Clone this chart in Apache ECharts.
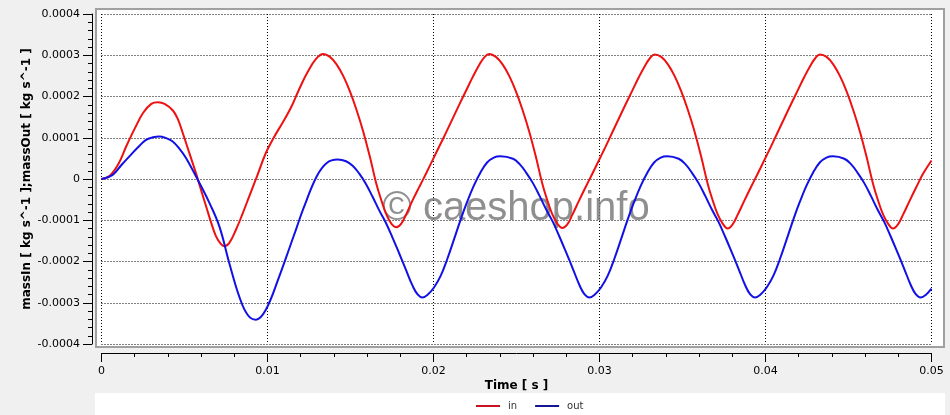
<!DOCTYPE html>
<html><head><meta charset="utf-8">
<script src="https://cdn.jsdelivr.net/npm/echarts@6/dist/echarts.min.js"></script>
<style>html,body{margin:0;padding:0;background:#f0f0f0}#c{width:950px;height:415px}</style>
</head><body><div id="c"></div>
<script>
// ---- data ----
const inTime = [0, 0.0005, 0.0010, 0.0015, 0.0020, 0.0025, 0.0030, 0.0034, 0.0038, 0.0043, 0.0046, 0.0049, 0.0053, 0.0057, 0.0060, 0.0063, 0.0066, 0.0069, 0.0072, 0.0074, 0.0077, 0.0081, 0.0085, 0.0089, 0.0094, 0.0099, 0.0104, 0.0109, 0.0114, 0.0119, 0.0124, 0.0129, 0.01336,
  0.01376, 0.01416, 0.01456, 0.01496, 0.01536, 0.01576, 0.01616, 0.01656, 0.01686, 0.01716, 0.01746, 0.01776, 0.01806, 0.01836, 0.01876, 0.01916, 0.01956, 0.01996, 0.02036, 0.02076, 0.02116, 0.02156, 0.02196, 0.02236, 0.02276, 0.02306, 0.02336,
  0.02376, 0.02416, 0.02456, 0.02496, 0.02536, 0.02576, 0.02616, 0.02656, 0.02686, 0.02716, 0.02746, 0.02776, 0.02806, 0.02836, 0.02876, 0.02916, 0.02956, 0.02996, 0.03036, 0.03076, 0.03116, 0.03156, 0.03196, 0.03236, 0.03276, 0.03306, 0.03332,
  0.03372, 0.03412, 0.03452, 0.03492, 0.03532, 0.03572, 0.03612, 0.03652, 0.03682, 0.03712, 0.03742, 0.03772, 0.03802, 0.03832, 0.03872, 0.03912, 0.03952, 0.03992, 0.04032, 0.04072, 0.04112, 0.04152, 0.04192, 0.04232, 0.04272, 0.04302, 0.04328,
  0.04368, 0.04408, 0.04448, 0.04488, 0.04528, 0.04568, 0.04608, 0.04648, 0.04678, 0.04708, 0.04738, 0.04768, 0.04798, 0.04828, 0.04868, 0.04908, 0.04948, 0.0500];
const inValue = [0, 0.08e-4, 0.35e-4, 0.80e-4, 1.22e-4, 1.60e-4, 1.82e-4, 1.86e-4, 1.82e-4, 1.66e-4, 1.45e-4, 1.11e-4, 0.62e-4, 0.13e-4, -0.27e-4, -0.66e-4, -1.05e-4, -1.39e-4, -1.58e-4, -1.63e-4, -1.55e-4, -1.23e-4, -0.84e-4, -0.42e-4, 0.10e-4, 0.63e-4, 1.02e-4, 1.36e-4, 1.72e-4, 2.17e-4, 2.58e-4, 2.90e-4, 3.03e-4,
  2.96e-4, 2.78e-4, 2.50e-4, 2.13e-4, 1.68e-4, 1.16e-4, 0.55e-4, -0.12e-4, -0.52e-4, -0.86e-4, -1.08e-4, -1.17e-4, -1.08e-4, -0.85e-4, -0.50e-4, -0.18e-4, 0.14e-4, 0.47e-4, 0.80e-4, 1.13e-4, 1.47e-4, 1.81e-4, 2.14e-4, 2.47e-4, 2.77e-4, 2.95e-4, 3.03e-4,
  2.96e-4, 2.78e-4, 2.50e-4, 2.13e-4, 1.68e-4, 1.16e-4, 0.55e-4, -0.12e-4, -0.52e-4, -0.86e-4, -1.08e-4, -1.19e-4, -1.10e-4, -0.87e-4, -0.53e-4, -0.20e-4, 0.12e-4, 0.45e-4, 0.78e-4, 1.12e-4, 1.46e-4, 1.80e-4, 2.13e-4, 2.46e-4, 2.76e-4, 2.94e-4, 3.02e-4,
  2.96e-4, 2.78e-4, 2.50e-4, 2.13e-4, 1.68e-4, 1.16e-4, 0.55e-4, -0.12e-4, -0.52e-4, -0.86e-4, -1.08e-4, -1.20e-4, -1.10e-4, -0.87e-4, -0.53e-4, -0.20e-4, 0.12e-4, 0.45e-4, 0.78e-4, 1.12e-4, 1.46e-4, 1.80e-4, 2.13e-4, 2.46e-4, 2.76e-4, 2.94e-4, 3.02e-4,
  2.96e-4, 2.78e-4, 2.50e-4, 2.13e-4, 1.68e-4, 1.16e-4, 0.55e-4, -0.12e-4, -0.52e-4, -0.86e-4, -1.08e-4, -1.20e-4, -1.10e-4, -0.87e-4, -0.53e-4, -0.20e-4, 0.12e-4, 0.45e-4];

const outTime = [0, 0.00067, 0.0012, 0.00168, 0.0022, 0.00268, 0.0031, 0.00348, 0.0039, 0.00429, 0.0047, 0.00509, 0.0058, 0.0065, 0.0071, 0.0077, 0.0083, 0.0088, 0.0093, 0.0099, 0.01071, 0.01136, 0.01172, 0.01216, 0.01296, 0.01357, 0.01423,
  0.01473, 0.01513, 0.01553, 0.01593, 0.01633, 0.01673, 0.01713, 0.01753, 0.01793, 0.01833, 0.01873, 0.01903, 0.01933,
  0.01963, 0.02003, 0.02043, 0.02083, 0.02123, 0.02163, 0.02203, 0.02243, 0.02283, 0.02323, 0.02363, 0.02403,
  0.02479, 0.02519, 0.02559, 0.02599, 0.02639, 0.02679, 0.02719, 0.02759, 0.02799, 0.02839, 0.02879, 0.02909, 0.02939,
  0.02969, 0.03009, 0.03049, 0.03089, 0.03129, 0.03169, 0.03209, 0.03249, 0.03289, 0.03329, 0.03369, 0.03409,
  0.03477, 0.03517, 0.03557, 0.03597, 0.03637, 0.03677, 0.03717, 0.03757, 0.03797, 0.03837, 0.03877, 0.03907, 0.03937,
  0.03967, 0.04007, 0.04047, 0.04087, 0.04127, 0.04167, 0.04207, 0.04247, 0.04287, 0.04327, 0.04367, 0.04407,
  0.04475, 0.04515, 0.04555, 0.04595, 0.04635, 0.04675, 0.04715, 0.04755, 0.04795, 0.04835, 0.04875, 0.04905, 0.04935, 0.04965, 0.0500];
const outValue = [0, 0.10e-4, 0.34e-4, 0.55e-4, 0.77e-4, 0.95e-4, 1.01e-4, 1.03e-4, 0.99e-4, 0.91e-4, 0.73e-4, 0.51e-4, -0.02e-4, -0.58e-4, -1.15e-4, -2.04e-4, -2.85e-4, -3.29e-4, -3.41e-4, -3.17e-4, -2.36e-4, -1.63e-4, -1.22e-4, -0.72e-4, 0.06e-4, 0.39e-4, 0.47e-4,
  0.43e-4, 0.32e-4, 0.13e-4, -0.12e-4, -0.43e-4, -0.76e-4, -1.06e-4, -1.42e-4, -1.80e-4, -2.19e-4, -2.58e-4, -2.79e-4, -2.87e-4,
  -2.81e-4, -2.63e-4, -2.35e-4, -1.94e-4, -1.47e-4, -0.99e-4, -0.55e-4, -0.16e-4, 0.16e-4, 0.40e-4, 0.52e-4, 0.55e-4,
  0.49e-4, 0.36e-4, 0.15e-4, -0.10e-4, -0.41e-4, -0.74e-4, -1.04e-4, -1.40e-4, -1.78e-4, -2.17e-4, -2.57e-4, -2.79e-4, -2.87e-4,
  -2.81e-4, -2.63e-4, -2.35e-4, -1.94e-4, -1.47e-4, -0.99e-4, -0.55e-4, -0.16e-4, 0.16e-4, 0.40e-4, 0.52e-4, 0.55e-4,
  0.49e-4, 0.36e-4, 0.15e-4, -0.10e-4, -0.41e-4, -0.74e-4, -1.04e-4, -1.40e-4, -1.78e-4, -2.17e-4, -2.57e-4, -2.79e-4, -2.87e-4,
  -2.81e-4, -2.63e-4, -2.35e-4, -1.94e-4, -1.47e-4, -0.99e-4, -0.55e-4, -0.16e-4, 0.16e-4, 0.40e-4, 0.52e-4, 0.55e-4,
  0.49e-4, 0.36e-4, 0.15e-4, -0.10e-4, -0.41e-4, -0.74e-4, -1.04e-4, -1.40e-4, -1.78e-4, -2.17e-4, -2.57e-4, -2.79e-4, -2.87e-4, -2.81e-4, -2.66e-4];

const xMin = 0, xMax = 0.05, xStep = 0.01;
const yMin = -0.0004, yMax = 0.0004, yStep = 0.0001;
const xName = 'Time [ s ]';
const yName = 'massIn [ kg s^-1 ];massOut [ kg s^-1 ]';
const seriesNames = ['in', 'out'];

// ---- chart ----
const FONT = '"DejaVu Sans", sans-serif';
const chart = echarts.init(document.getElementById('c'));
const axisCommon = {
  type: 'value',
  nameLocation: 'middle',
  nameMoveOverlap: false,
  nameTextStyle: { fontFamily: FONT, fontWeight: 'bold', fontSize: 12, color: '#000' },
  axisLine: { show: true, onZero: false, lineStyle: { color: '#000', width: 1 } },
  axisTick: { show: true, inside: false, length: 9, lineStyle: { color: '#000', width: 1 } },
  minorTick: { show: true, splitNumber: 5, length: 4, lineStyle: { color: '#000', width: 1 } },
  splitLine: { show: true, lineStyle: { color: '#000', type: [1, 2], width: 1 } }
};
chart.setOption({
  animation: false,
  backgroundColor: '#f0f0f0',
  grid: { left: 101.5, right: 18.5, top: 14, bottom: 71, containLabel: false, outerBoundsMode: 'none' },
  graphic: [
    { type: 'rect', z: -10, shape: { x: 96, y: 9, width: 848, height: 338 },
      style: { fill: '#ffffff', stroke: '#a0a0a0', lineWidth: 2 } },
    { type: 'rect', z: -10, shape: { x: 95, y: 393, width: 850, height: 22 },
      style: { fill: '#ffffff' } },
    { type: 'text', z: 1, x: 516, y: 209,
      style: { text: '\u00a9 caeshop.info', font: '40px "Liberation Sans", Arial, sans-serif',
               fill: 'rgba(115,115,115,0.8)', align: 'center', verticalAlign: 'middle' } }
  ],
  xAxis: Object.assign({}, axisCommon, {
    min: xMin, max: xMax, interval: xStep, offset: 9,
    name: xName, nameGap: 27,
    axisLabel: { margin: 13, fontFamily: FONT, fontSize: 11, color: '#000' }
  }),
  yAxis: Object.assign({}, axisCommon, {
    min: yMin, max: yMax, interval: yStep, offset: 9.5,
    name: yName, nameGap: 59, nameRotate: 90,
    axisLabel: { margin: 12, fontFamily: FONT, fontSize: 11, color: '#000' }
  }),
  legend: {
    left: 471, top: 396, itemWidth: 24, itemHeight: 2, itemGap: 18, icon: 'rect',
    textStyle: { fontFamily: FONT, fontSize: 10, color: '#333', padding: [0, 0, 0, 3] },
    data: [
      { name: seriesNames[0], itemStyle: { color: '#c81420' } },
      { name: seriesNames[1], itemStyle: { color: '#141496' } }
    ]
  },
  series: [
    { name: seriesNames[0], type: 'line', smooth: 0.4, symbol: 'none', showSymbol: false,
      data: inTime.map((t, i) => [t, inValue[i]]),
      lineStyle: { color: '#ee1111', width: 2 }, itemStyle: { color: '#ee1111' } },
    { name: seriesNames[1], type: 'line', smooth: 0.4, symbol: 'none', showSymbol: false,
      data: outTime.map((t, i) => [t, outValue[i]]),
      lineStyle: { color: '#1111e6', width: 2 }, itemStyle: { color: '#1111e6' } }
  ]
});
</script>
</body></html>
